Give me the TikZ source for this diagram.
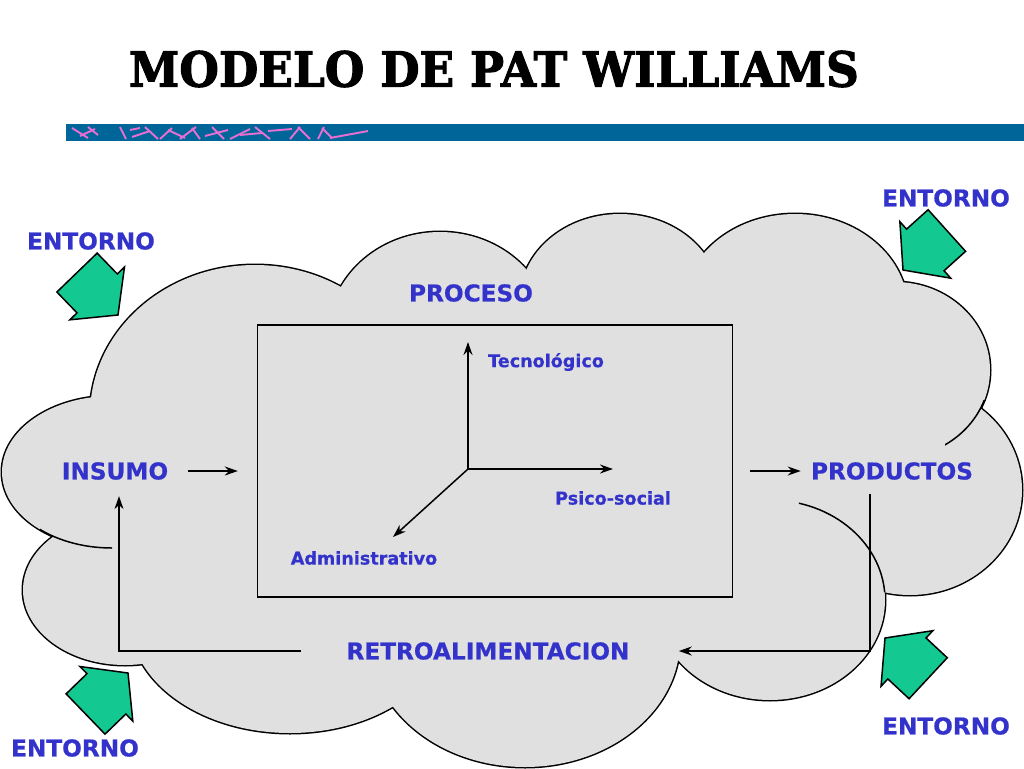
\documentclass[tikz,border=0pt]{standalone}
\usepackage{fontspec}
\setmainfont{DejaVu Sans}[BoldFeatures={FakeBold=0.6}]
\newfontfamily\titlefont{DejaVu Serif}[BoldFeatures={FakeBold=2.2}]
\usetikzlibrary{arrows.meta}

\definecolor{labelblue}{RGB}{51,51,204}
\definecolor{marble}{RGB}{224,224,224}
\definecolor{entgreen}{RGB}{20,200,145}
\definecolor{barblue}{RGB}{0,102,153}
\definecolor{scribble}{RGB}{232,110,210}

\tikzset{
  lbl/.style={text=labelblue,font=\bfseries\fontsize{13.2}{13.2}\selectfont,inner sep=0pt},
  smalllbl/.style={text=labelblue,font=\bfseries\fontsize{10}{10}\selectfont,inner sep=0pt},
  flow/.style={-{Stealth[length=2.6mm,width=1.8mm]},line width=0.85pt},
  cloudline/.style={line width=0.85pt},
  entarrow/.pic={
    \draw[fill=entgreen,line width=0.85pt,line join=miter]
      (0,0) -- (-30,38) -- (-30,28) -- (-59,28) -- (-59,-28) -- (-30,-28) -- (-30,-38) -- cycle;
  }
}

\begin{document}
\begin{tikzpicture}[x=0.02cm,y=-0.02cm]
  \useasboundingbox[fill=white] (0,0) rectangle (1024,768);

  \node[font=\titlefont\bfseries\fontsize{27.5}{27.5}\selectfont] (title) at (494,69) {\scalebox{0.94}[1]{MODELO DE PAT WILLIAMS}};
  \fill[barblue] (66,124) rectangle (1024,141);
  \foreach \xa/\ya/\xb/\yb in {72/128/88/138, 80/136/95/129, 88/127/98/135, 120/127/126/139,
      130/130/140/128, 132/137/150/131, 145/127/158/139, 160/139/172/128, 168/130/185/138,
      180/139/196/127, 192/128/200/139, 205/136/228/130, 212/127/224/139, 230/139/250/129,
      240/135/262/133, 255/127/270/139, 268/131/292/129, 290/139/300/127, 298/127/310/139,
      318/139/324/127, 322/128/332/138, 330/138/368/131}
    \draw[scribble,line width=1.1pt] (\xa,\ya) -- (\xb,\yb);

  % cloud: outlines first, then the fill hides the inner strokes
  \foreach \cx/\cy/\rx/\ry in {255/415/165/150, 440/335/112/103, 620/300/100/86, 795/310/113/96,
      895/370/95/88, 910/490/112/105, 770/600/115/100, 525/640/155/127, 290/620/160/113,
      125/590/102/75, 112/472/110/76}
    \draw[line width=1.7pt] (\cx,\cy) ellipse [x radius=\rx,y radius=\ry];
  \foreach \cx/\cy/\rx/\ry in {255/415/165/150, 440/335/112/103, 620/300/100/86, 795/310/113/96,
      895/370/95/88, 910/490/112/105, 770/600/115/100, 525/640/155/127, 290/620/160/113,
      125/590/102/75, 112/472/110/76, 510/470/380/200}
    \fill[marble] (\cx,\cy) ellipse [x radius=\rx,y radius=\ry];
  \begin{scope}
    \clip (910,490) ellipse [x radius=112,y radius=105];
    \draw[cloudline] (770,600) ellipse [x radius=115,y radius=100];
  \end{scope}
  \begin{scope}
    \clip (945,400) rectangle (1000,450);
    \draw[cloudline] (895,370) ellipse [x radius=95,y radius=88];
  \end{scope}
  \begin{scope}
    \clip (40,525) rectangle (112,560);
    \draw[cloudline] (112,472) ellipse [x radius=110,y radius=76];
  \end{scope}

  \node[draw,line width=0.85pt,minimum width=9.5cm,minimum height=5.44cm] (box) at (495,461) {};

  \node[lbl] (proceso) at (471,293) {PROCESO};
  \node[lbl] (insumo) at (115,471) {INSUMO};
  \node[lbl] (productos) at (892,471) {PRODUCTOS};
  \node[lbl] (retro) at (488,651) {RETROALIMENTACION};
  \node[lbl] (entTL) at (91,241) {ENTORNO};
  \node[lbl] (entTR) at (946,198) {ENTORNO};
  \node[lbl] (entBR) at (946,726) {ENTORNO};
  \node[lbl] (entBL) at (75,748) {ENTORNO};

  \node[smalllbl] (tec) at (546,362) {Tecnológico};
  \node[smalllbl] (psi) at (613,498) {Psico-social};
  \node[smalllbl] (adm) at (364,558) {Administrativo};

  \coordinate (orig) at (468,469);
  \coordinate (tecTip) at (468,342);
  \coordinate (psiTip) at (613,469);
  \coordinate (admTip) at (393,537);
  \path[flow] (orig) edge (tecTip) (orig) edge (psiTip) (orig) edge (admTip);

  \draw[flow,shorten <=0.38cm,shorten >=0.38cm] (insumo.east) -- (insumo.east -| box.west);
  \draw[flow,shorten <=0.34cm,shorten >=0.2cm] (productos.west -| box.east) -- (productos.west);
  \draw[flow,shorten <=0.28cm,shorten >=0.98cm] ([xshift=-0.44cm]productos.south) |- (retro.east);
  \draw[flow,shorten <=0.9cm,shorten >=0.32cm] (retro.west) -| ([xshift=0.08cm]insumo.south);

  \pic[rotate=-46] at (118,315) {entarrow};
  \pic[rotate=-138] at (903,270) {entarrow};
  \pic[rotate=44] at (128,673) {entarrow};
  \pic[rotate=137] at (885,638) {entarrow};
\end{tikzpicture}
\end{document}
